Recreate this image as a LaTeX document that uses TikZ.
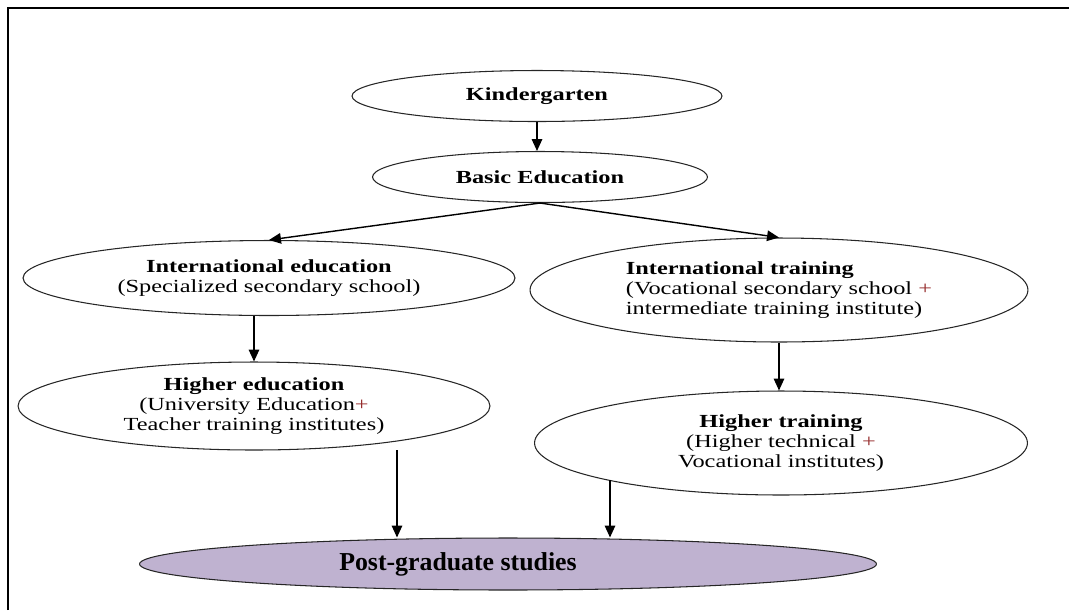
\documentclass[tikz,border=0pt]{standalone}
\usepackage{fontspec}
\setmainfont{Liberation Serif}
\newfontfamily\wideserif{Liberation Serif}[FakeStretch=1.32]
\usetikzlibrary{shapes.geometric,arrows.meta}
\definecolor{pglilac}{RGB}{191,178,208}
\definecolor{plusred}{RGB}{150,45,45}
\newcommand{\redplus}{\textcolor{plusred}{+}}

\begin{document}
\begin{tikzpicture}[x=0.02cm,y=-0.02cm]
\tikzstyle{stage}=[draw=black!85,ellipse,line width=0.6pt,inner sep=0pt,align=center,font=\wideserif\fontsize{10.5}{11.4}\selectfont]
\tikzstyle{goal}=[draw=black!85,ellipse,line width=0.6pt,fill=pglilac]
\tikzstyle{link}=[-{Triangle[length=6.8pt,width=6pt]},line width=0.8pt]

\useasboundingbox (0,0) rectangle (1069,610);
\draw[line width=1.2pt] (8,610) -- (8,8) -- (1069,8);

\node[stage,minimum width=7.4cm,minimum height=1.02cm] (kg) at (537,96) {\textbf{Kindergarten}};
\node[stage,minimum width=6.7cm,minimum height=1.02cm] (basic) at (540,177) {\textbf{Basic Education}};
\node[stage,minimum width=9.84cm,minimum height=1.5cm] (intedu) at (269,278)
  {\textbf{International education}\\(Specialized secondary school)};
\node[stage,align=left,minimum width=9.96cm,minimum height=2.08cm] (inttrain) at (779,290)
  {\textbf{International training}\\(Vocational secondary school \redplus\\intermediate training institute)};
\node[stage,minimum width=9.44cm,minimum height=1.76cm] (highedu) at (254,406)
  {\textbf{Higher education}\\(University Education\redplus\\Teacher training institutes)};
\node[stage,minimum width=9.86cm,minimum height=2.08cm] (hightrain) at (781,443)
  {\textbf{Higher training}\\(Higher technical \redplus\\Vocational institutes)};
\node[goal,minimum width=14.74cm,minimum height=1.04cm] (post) at (508,564) {};
\node[font=\bfseries\fontsize{14.7}{17}\selectfont] (posttext) at (458,564) {Post-graduate studies};

\coordinate (heout) at (397,450);
\coordinate (htout) at (610,480);

\draw[link] (kg.south) -- (kg.south |- basic.north);
\draw[link] (basic.south) -- (intedu.north);
\draw[link] (basic.south) -- (inttrain.north);
\draw[link] (intedu.south -| highedu.north) -- (highedu.north);
\draw[link] (inttrain.south) -- (inttrain.south |- hightrain.north);
\draw[link] (heout) -- (heout |- post.north);
\draw[link] (htout) -- (htout |- post.north);
\end{tikzpicture}
\end{document}
